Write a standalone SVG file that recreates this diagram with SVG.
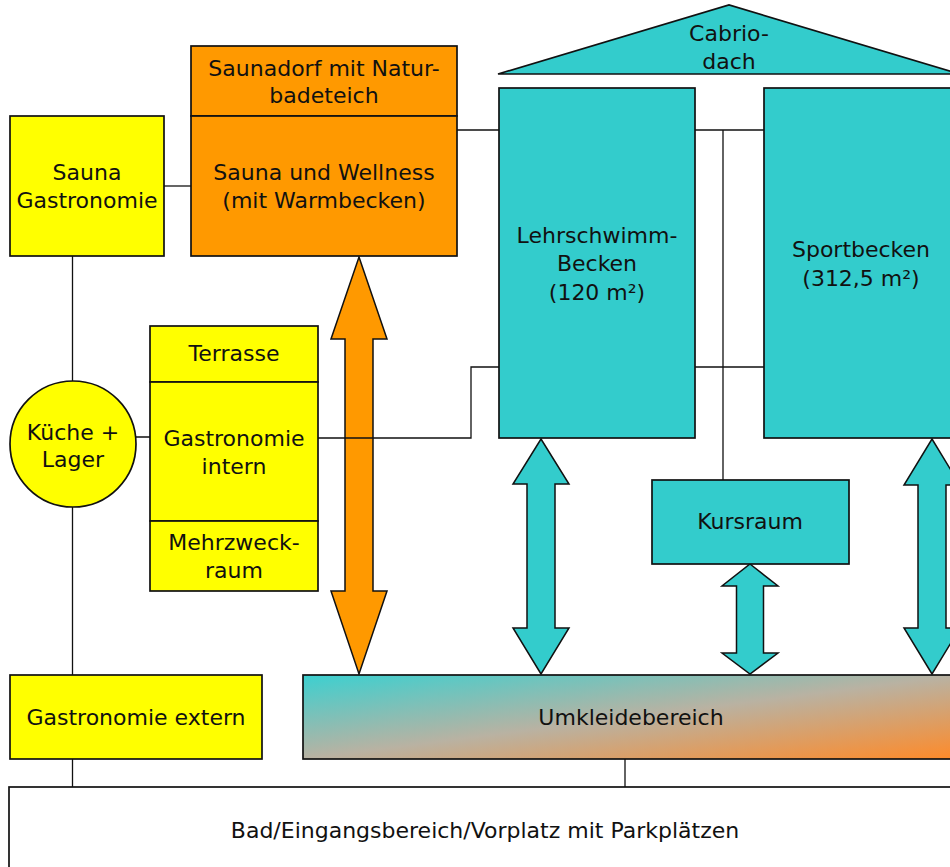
<svg xmlns="http://www.w3.org/2000/svg" width="950" height="867" viewBox="0 0 950 867">
<defs>
<linearGradient id="umk" x1="0" y1="0" x2="1" y2="1">
<stop offset="0" stop-color="#3cd0d0"/>
<stop offset="0.5" stop-color="#b9b2a2"/>
<stop offset="1" stop-color="#ff8a28"/>
</linearGradient>
<style>
.box{stroke:#111;stroke-width:1.7}
.y{fill:#ffff00}
.o{fill:#ff9900}
.c{fill:#33cccc}
.ln{fill:none;stroke:#111;stroke-width:1.3}
.arr{stroke:#111;stroke-width:1.5;stroke-linejoin:miter}
text{font-family:"DejaVu Sans","Liberation Sans",sans-serif;font-size:22px;fill:#111;text-anchor:middle}
</style>
</defs>
<rect width="950" height="867" fill="#fff"/>

<g id="connectors">
<polygon class="arr o" points="359,257 387,339 373,339 373,591 387,591 359,674 331,591 345,591 345,339 331,339"/>
<polygon class="arr c" points="541,439 569,484 555,484 555,628 569,628 541,674 513,628 527,628 527,484 513,484"/>
<polygon class="arr c" points="750,564 778,586 763.5,586 763.5,653 778,653 750,674 722,653 736.5,653 736.5,586 722,586"/>
<polygon class="arr c" points="932,439 960,485 946,485 946,628 960,628 932,674 904,628 918,628 918,485 904,485"/>
<path class="ln" d="M457,130 H499 M695,130 H764 M723,130 V480 M695,367 H764"/>
<path class="ln" d="M499,367 H471 V438 H318"/>
<path class="ln" d="M164,186 H191"/>
<path class="ln" d="M72.5,256 V381 M72.5,507 V675 M136,437 H150"/>
<path class="ln" d="M72.5,759 V787 M625,759 V787"/>
</g>

<g id="cabriodach">
<polygon class="box c" points="498,74 729,5 960,74"/>
<text x="729" y="41">Cabrio-</text>
<text x="729" y="69">dach</text>
</g>

<g id="saunadorf">
<rect class="box o" x="191" y="46" width="266" height="70"/>
<text x="324" y="76">Saunadorf mit Natur-</text>
<text x="324" y="103">badeteich</text>
</g>

<g id="sauna-wellness">
<rect class="box o" x="191" y="116" width="266" height="140"/>
<text x="324" y="180">Sauna und Wellness</text>
<text x="324" y="208">(mit Warmbecken)</text>
</g>

<g id="sauna-gastronomie">
<rect class="box y" x="10" y="116" width="154" height="140"/>
<text x="87" y="180">Sauna</text>
<text x="87" y="208">Gastronomie</text>
</g>

<g id="kueche-lager">
<circle class="box y" cx="73" cy="444" r="63"/>
<text x="73" y="440">Küche +</text>
<text x="73" y="467">Lager</text>
</g>

<g id="terrasse">
<rect class="box y" x="150" y="326" width="168" height="56"/>
<text x="234" y="361">Terrasse</text>
</g>

<g id="gastronomie-intern">
<rect class="box y" x="150" y="382" width="168" height="139"/>
<text x="234" y="446">Gastronomie</text>
<text x="234" y="474">intern</text>
</g>

<g id="mehrzweckraum">
<rect class="box y" x="150" y="521" width="168" height="70"/>
<text x="234" y="550">Mehrzweck-</text>
<text x="234" y="578">raum</text>
</g>

<g id="lehrschwimmbecken">
<rect class="box c" x="499" y="88" width="196" height="350"/>
<text x="597" y="243">Lehrschwimm-</text>
<text x="597" y="271">Becken</text>
<text x="597" y="300">(120 m²)</text>
</g>

<g id="sportbecken">
<rect class="box c" x="764" y="88" width="196" height="350"/>
<text x="861" y="257">Sportbecken</text>
<text x="861" y="286">(312,5 m²)</text>
</g>

<g id="kursraum">
<rect class="box c" x="652" y="480" width="197" height="84"/>
<text x="750" y="529">Kursraum</text>
</g>

<g id="gastronomie-extern">
<rect class="box y" x="10" y="675" width="252" height="84"/>
<text x="136" y="725">Gastronomie extern</text>
</g>

<g id="umkleidebereich">
<rect class="box" fill="url(#umk)" x="303" y="675" width="657" height="84"/>
<text x="631" y="725">Umkleidebereich</text>
</g>

<g id="bad-eingang">
<rect class="box" fill="#fff" x="9" y="787" width="952" height="90"/>
<text x="485" y="838">Bad/Eingangsbereich/Vorplatz mit Parkplätzen</text>
</g>
</svg>
